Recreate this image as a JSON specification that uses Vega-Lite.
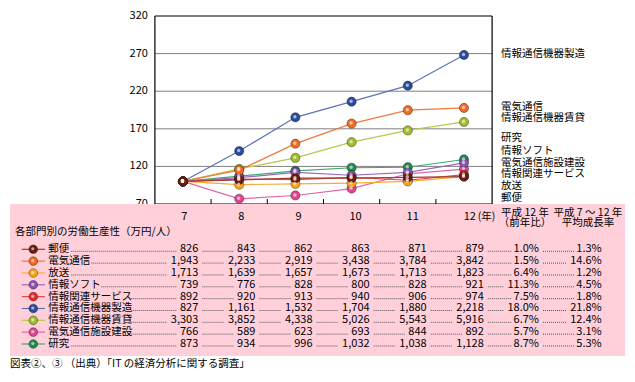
{
  "$schema": "https://vega.github.io/schema/vega-lite/v6.json",
  "padding": {"left": 10, "top": 10, "right": 10, "bottom": 4},
  "background": "white",
  "config": {"font": "Noto Sans CJK JP", "view": {"stroke": null}, "text": {"font": "Noto Sans CJK JP", "color": "black"}},
  "title": {"text": "図表②、③ （出典）「IT の経済分析に関する調査」", "orient": "bottom", "anchor": "start", "fontSize": 10.5, "fontWeight": "normal", "font": "Noto Sans CJK JP", "offset": 3, "color": "black"},
  "datasets": {
    "prod": [
      {"series": "研究", "year": 7, "value": 873, "index": 100},
      {"series": "研究", "year": 8, "value": 934, "index": 106.99},
      {"series": "研究", "year": 9, "value": 996, "index": 114.09},
      {"series": "研究", "year": 10, "value": 1032, "index": 118.21},
      {"series": "研究", "year": 11, "value": 1038, "index": 118.9},
      {"series": "研究", "year": 12, "value": 1128, "index": 129.21},
      {"series": "電気通信施設建設", "year": 7, "value": 766, "index": 100},
      {"series": "電気通信施設建設", "year": 8, "value": 589, "index": 76.89},
      {"series": "電気通信施設建設", "year": 9, "value": 623, "index": 81.33},
      {"series": "電気通信施設建設", "year": 10, "value": 693, "index": 90.47},
      {"series": "電気通信施設建設", "year": 11, "value": 844, "index": 110.18},
      {"series": "電気通信施設建設", "year": 12, "value": 892, "index": 116.45},
      {"series": "情報通信機器賃貸", "year": 7, "value": 3303, "index": 100},
      {"series": "情報通信機器賃貸", "year": 8, "value": 3852, "index": 116.62},
      {"series": "情報通信機器賃貸", "year": 9, "value": 4338, "index": 131.34},
      {"series": "情報通信機器賃貸", "year": 10, "value": 5026, "index": 152.17},
      {"series": "情報通信機器賃貸", "year": 11, "value": 5543, "index": 167.82},
      {"series": "情報通信機器賃貸", "year": 12, "value": 5916, "index": 179.11},
      {"series": "情報通信機器製造", "year": 7, "value": 827, "index": 100},
      {"series": "情報通信機器製造", "year": 8, "value": 1161, "index": 140.39},
      {"series": "情報通信機器製造", "year": 9, "value": 1532, "index": 185.25},
      {"series": "情報通信機器製造", "year": 10, "value": 1704, "index": 206.05},
      {"series": "情報通信機器製造", "year": 11, "value": 1880, "index": 227.33},
      {"series": "情報通信機器製造", "year": 12, "value": 2218, "index": 268.2},
      {"series": "情報関連サービス", "year": 7, "value": 892, "index": 100},
      {"series": "情報関連サービス", "year": 8, "value": 920, "index": 103.14},
      {"series": "情報関連サービス", "year": 9, "value": 913, "index": 102.35},
      {"series": "情報関連サービス", "year": 10, "value": 940, "index": 105.38},
      {"series": "情報関連サービス", "year": 11, "value": 906, "index": 101.57},
      {"series": "情報関連サービス", "year": 12, "value": 974, "index": 109.19},
      {"series": "情報ソフト", "year": 7, "value": 739, "index": 100},
      {"series": "情報ソフト", "year": 8, "value": 776, "index": 105.01},
      {"series": "情報ソフト", "year": 9, "value": 828, "index": 112.04},
      {"series": "情報ソフト", "year": 10, "value": 800, "index": 108.25},
      {"series": "情報ソフト", "year": 11, "value": 828, "index": 112.04},
      {"series": "情報ソフト", "year": 12, "value": 921, "index": 124.63},
      {"series": "放送", "year": 7, "value": 1713, "index": 100},
      {"series": "放送", "year": 8, "value": 1639, "index": 95.68},
      {"series": "放送", "year": 9, "value": 1657, "index": 96.73},
      {"series": "放送", "year": 10, "value": 1673, "index": 97.66},
      {"series": "放送", "year": 11, "value": 1713, "index": 100},
      {"series": "放送", "year": 12, "value": 1823, "index": 106.42},
      {"series": "電気通信", "year": 7, "value": 1943, "index": 100},
      {"series": "電気通信", "year": 8, "value": 2233, "index": 114.93},
      {"series": "電気通信", "year": 9, "value": 2919, "index": 150.23},
      {"series": "電気通信", "year": 10, "value": 3438, "index": 176.94},
      {"series": "電気通信", "year": 11, "value": 3784, "index": 194.75},
      {"series": "電気通信", "year": 12, "value": 3842, "index": 197.74},
      {"series": "郵便", "year": 7, "value": 826, "index": 100},
      {"series": "郵便", "year": 8, "value": 843, "index": 102.06},
      {"series": "郵便", "year": 9, "value": 862, "index": 104.36},
      {"series": "郵便", "year": 10, "value": 863, "index": 104.48},
      {"series": "郵便", "year": 11, "value": 871, "index": 105.45},
      {"series": "郵便", "year": 12, "value": 879, "index": 106.42}
    ],
    "rates": [
      {"series": "郵便", "yoy": 0.010, "cagr": 0.013},
      {"series": "電気通信", "yoy": 0.015, "cagr": 0.146},
      {"series": "放送", "yoy": 0.064, "cagr": 0.012},
      {"series": "情報ソフト", "yoy": 0.113, "cagr": 0.045},
      {"series": "情報関連サービス", "yoy": 0.075, "cagr": 0.018},
      {"series": "情報通信機器製造", "yoy": 0.180, "cagr": 0.218},
      {"series": "情報通信機器賃貸", "yoy": 0.067, "cagr": 0.124},
      {"series": "電気通信施設建設", "yoy": 0.057, "cagr": 0.031},
      {"series": "研究", "yoy": 0.087, "cagr": 0.053}
    ],
    "labels": [
      {"series": "情報通信機器製造", "at": 269.1},
      {"series": "電気通信", "at": 199.4},
      {"series": "情報通信機器賃貸", "at": 184.0},
      {"series": "研究", "at": 158.2},
      {"series": "情報ソフト", "at": 141.0},
      {"series": "電気通信施設建設", "at": 124.5},
      {"series": "情報関連サービス", "at": 109.9},
      {"series": "放送", "at": 94.3},
      {"series": "郵便", "at": 78.4}
    ]
  },
  "spacing": 0,
  "bounds": "flush",
  "resolve": {"scale": {"x": "independent", "y": "independent"}},
  "vconcat": [
    {
      "width": 615,
      "height": 188,
      "layer": [
        {"data": {"values": [{}]}, "mark": {"type": "rule", "color": "#808080"}, "encoding": {"x": {"datum": 6.5, "type": "quantitative", "axis": null}, "x2": {"datum": 12.5}, "y": {"datum": 120, "type": "quantitative", "axis": null}}},
        {"data": {"values": [{}]}, "mark": {"type": "rule", "color": "#808080"}, "encoding": {"x": {"datum": 6.5, "type": "quantitative", "axis": null}, "x2": {"datum": 12.5}, "y": {"datum": 170, "type": "quantitative", "axis": null}}},
        {"data": {"values": [{}]}, "mark": {"type": "rule", "color": "#808080"}, "encoding": {"x": {"datum": 6.5, "type": "quantitative", "axis": null}, "x2": {"datum": 12.5}, "y": {"datum": 220, "type": "quantitative", "axis": null}}},
        {"data": {"values": [{}]}, "mark": {"type": "rule", "color": "#808080"}, "encoding": {"x": {"datum": 6.5, "type": "quantitative", "axis": null}, "x2": {"datum": 12.5}, "y": {"datum": 270, "type": "quantitative", "axis": null}}},
        {"data": {"values": [{}]}, "mark": {"type": "rule", "color": "black", "strokeWidth": 1.2}, "encoding": {"x": {"datum": 6.5, "type": "quantitative", "axis": null}, "x2": {"datum": 12.5}, "y": {"datum": 320, "type": "quantitative", "axis": null}}},
        {"data": {"values": [{}]}, "mark": {"type": "rule", "color": "black", "strokeWidth": 1.2}, "encoding": {"x": {"datum": 6.5, "type": "quantitative", "axis": null}, "x2": {"datum": 12.5}, "y": {"datum": 70, "type": "quantitative", "axis": null}}},
        {"data": {"values": [{}]}, "mark": {"type": "rule", "color": "black", "strokeWidth": 1.2}, "encoding": {"x": {"datum": 6.5, "type": "quantitative", "axis": null}, "y": {"datum": 70, "type": "quantitative", "axis": null}, "y2": {"datum": 320}}},
        {"data": {"values": [{}]}, "mark": {"type": "rule", "color": "black", "strokeWidth": 1.2}, "encoding": {"x": {"datum": 12.5, "type": "quantitative", "axis": null}, "y": {"datum": 70, "type": "quantitative", "axis": null}, "y2": {"datum": 320}}},
        {"data": {"values": [{}]}, "mark": {"type": "rule", "color": "black"}, "encoding": {"x": {"datum": 7.5, "type": "quantitative", "axis": null}, "y": {"datum": 70, "type": "quantitative", "axis": null}, "y2": {"datum": 76.6}}},
        {"data": {"values": [{}]}, "mark": {"type": "rule", "color": "black"}, "encoding": {"x": {"datum": 8.5, "type": "quantitative", "axis": null}, "y": {"datum": 70, "type": "quantitative", "axis": null}, "y2": {"datum": 76.6}}},
        {"data": {"values": [{}]}, "mark": {"type": "rule", "color": "black"}, "encoding": {"x": {"datum": 9.5, "type": "quantitative", "axis": null}, "y": {"datum": 70, "type": "quantitative", "axis": null}, "y2": {"datum": 76.6}}},
        {"data": {"values": [{}]}, "mark": {"type": "rule", "color": "black"}, "encoding": {"x": {"datum": 10.5, "type": "quantitative", "axis": null}, "y": {"datum": 70, "type": "quantitative", "axis": null}, "y2": {"datum": 76.6}}},
        {"data": {"values": [{}]}, "mark": {"type": "rule", "color": "black"}, "encoding": {"x": {"datum": 11.5, "type": "quantitative", "axis": null}, "y": {"datum": 70, "type": "quantitative", "axis": null}, "y2": {"datum": 76.6}}},
        {"data": {"values": [{}]}, "mark": {"type": "text", "align": "right", "baseline": "middle", "fontSize": 11, "dx": -7, "text": "70"}, "encoding": {"x": {"datum": 6.5, "type": "quantitative", "axis": null}, "y": {"datum": 70, "type": "quantitative", "axis": null}}},
        {"data": {"values": [{}]}, "mark": {"type": "text", "align": "right", "baseline": "middle", "fontSize": 11, "dx": -7, "text": "120"}, "encoding": {"x": {"datum": 6.5, "type": "quantitative", "axis": null}, "y": {"datum": 120, "type": "quantitative", "axis": null}}},
        {"data": {"values": [{}]}, "mark": {"type": "text", "align": "right", "baseline": "middle", "fontSize": 11, "dx": -7, "text": "170"}, "encoding": {"x": {"datum": 6.5, "type": "quantitative", "axis": null}, "y": {"datum": 170, "type": "quantitative", "axis": null}}},
        {"data": {"values": [{}]}, "mark": {"type": "text", "align": "right", "baseline": "middle", "fontSize": 11, "dx": -7, "text": "220"}, "encoding": {"x": {"datum": 6.5, "type": "quantitative", "axis": null}, "y": {"datum": 220, "type": "quantitative", "axis": null}}},
        {"data": {"values": [{}]}, "mark": {"type": "text", "align": "right", "baseline": "middle", "fontSize": 11, "dx": -7, "text": "270"}, "encoding": {"x": {"datum": 6.5, "type": "quantitative", "axis": null}, "y": {"datum": 270, "type": "quantitative", "axis": null}}},
        {"data": {"values": [{}]}, "mark": {"type": "text", "align": "right", "baseline": "middle", "fontSize": 11, "dx": -7, "text": "320"}, "encoding": {"x": {"datum": 6.5, "type": "quantitative", "axis": null}, "y": {"datum": 320, "type": "quantitative", "axis": null}}},
        {
          "data": {"name": "prod"},
          "mark": {"type": "line", "strokeWidth": 1.2},
          "encoding": {
            "x": {"field": "year", "type": "quantitative", "axis": null, "scale": {"domain": [3.9217, 14.8648], "nice": false, "zero": false}},
            "y": {"field": "index", "type": "quantitative", "axis": null, "scale": {"domain": [70, 320], "nice": false, "zero": false}},
            "stroke": {"field": "series", "type": "nominal", "legend": null,
                       "scale": {"domain": ["郵便", "電気通信", "放送", "情報ソフト", "情報関連サービス", "情報通信機器製造", "情報通信機器賃貸", "電気通信施設建設", "研究"],
                                 "range": ["#a33a2e", "#f07a3c", "#f2ae3a", "#9a6ab8", "#e64646", "#5a72b8", "#b5c94a", "#e066a6", "#3aaa78"]}}
          }
        },
        {
          "data": {"name": "prod"},
          "mark": {"type": "circle", "size": 85, "opacity": 1, "stroke": "black", "strokeOpacity": 0.35, "strokeWidth": 1},
          "encoding": {
            "x": {"field": "year", "type": "quantitative", "axis": null},
            "y": {"field": "index", "type": "quantitative", "axis": null},
            "fill": {"field": "series", "type": "nominal", "legend": null,
                     "scale": {"domain": ["郵便", "電気通信", "放送", "情報ソフト", "情報関連サービス", "情報通信機器製造", "情報通信機器賃貸", "電気通信施設建設", "研究"],
                               "range": ["#6b1c12", "#f26a21", "#f7a51c", "#8a55a8", "#e32b2b", "#2b4c9b", "#a3bd2a", "#e0458f", "#1e8c50"]}}
          }
        },
        {
          "data": {"name": "prod"},
          "mark": {"type": "circle", "size": 12, "color": "white", "opacity": 0.6, "xOffset": -0.5, "yOffset": -0.5},
          "encoding": {
            "x": {"field": "year", "type": "quantitative", "axis": null},
            "y": {"field": "index", "type": "quantitative", "axis": null}
          }
        },
        {
          "data": {"name": "labels"},
          "mark": {"type": "text", "align": "left", "baseline": "middle", "fontSize": 10.5},
          "encoding": {
            "x": {"datum": 12.658, "type": "quantitative", "axis": null},
            "y": {"field": "at", "type": "quantitative", "axis": null},
            "text": {"field": "series"}
          }
        }
      ]
    },
    {
      "width": 615,
      "height": 152,
      "view": {"fill": "#ffd0da", "stroke": null},
      "layer": [
        {
          "data": {"name": "rates"},
          "mark": {"type": "rule", "strokeWidth": 1.2},
          "encoding": {
            "x": {"datum": 3.907, "type": "quantitative", "axis": null, "scale": {"domain": [3.702, 14.473], "nice": false, "zero": false}},
            "x2": {"datum": 4.315},
            "y": {"field": "series", "type": "nominal", "axis": null,
                  "scale": {"type": "point", "domain": ["_h1", "_h2", "_h3", "郵便", "電気通信", "放送", "情報ソフト", "情報関連サービス", "情報通信機器製造", "情報通信機器賃貸", "電気通信施設建設", "研究", "_f1"], "padding": 0.42, "align": 0.983}},
            "stroke": {"field": "series", "type": "nominal", "legend": null,
                       "scale": {"domain": ["郵便", "電気通信", "放送", "情報ソフト", "情報関連サービス", "情報通信機器製造", "情報通信機器賃貸", "電気通信施設建設", "研究"],
                                 "range": ["#a33a2e", "#f07a3c", "#f2ae3a", "#9a6ab8", "#e64646", "#5a72b8", "#b5c94a", "#e066a6", "#3aaa78"]}}
          }
        },
        {
          "data": {"name": "rates"},
          "mark": {"type": "circle", "size": 75, "opacity": 1, "stroke": "black", "strokeOpacity": 0.35, "strokeWidth": 1},
          "encoding": {
            "x": {"datum": 4.11, "type": "quantitative", "axis": null},
            "y": {"field": "series", "type": "nominal", "axis": null},
            "fill": {"field": "series", "type": "nominal", "legend": null,
                     "scale": {"domain": ["郵便", "電気通信", "放送", "情報ソフト", "情報関連サービス", "情報通信機器製造", "情報通信機器賃貸", "電気通信施設建設", "研究"],
                               "range": ["#6b1c12", "#f26a21", "#f7a51c", "#8a55a8", "#e32b2b", "#2b4c9b", "#a3bd2a", "#e0458f", "#1e8c50"]}}
          }
        },
        {
          "data": {"name": "rates"},
          "mark": {"type": "circle", "size": 10, "color": "white", "opacity": 0.6, "xOffset": -0.5, "yOffset": -0.5},
          "encoding": {
            "x": {"datum": 4.11, "type": "quantitative", "axis": null},
            "y": {"field": "series", "type": "nominal", "axis": null}
          }
        },
        {
          "data": {"name": "rates"},
          "mark": {"type": "text", "align": "left", "baseline": "middle", "fontSize": 10.5},
          "encoding": {
            "x": {"datum": 4.372, "type": "quantitative", "axis": null},
            "y": {"field": "series", "type": "nominal", "axis": null},
            "text": {"field": "series"}
          }
        },
        {
          "data": {"name": "prod"},
          "mark": {"type": "rule", "color": "#555555", "strokeWidth": 1, "strokeDash": [1, 1], "yOffset": 2,
                   "xOffset": {"expr": "datum.year == 7 ? -147 + 10 * length(datum.series) : -53"},
                   "x2Offset": {"expr": "datum.value >= 1000 ? -31 : -21"}},
          "encoding": {
            "x": {"field": "year", "type": "quantitative", "axis": null},
            "x2": {"field": "year"},
            "y": {"field": "series", "type": "nominal", "axis": null}
          }
        },
        {
          "data": {"name": "prod"},
          "mark": {"type": "text", "align": "right", "baseline": "middle", "fontSize": 11},
          "encoding": {
            "x": {"field": "year", "type": "quantitative", "axis": null},
            "y": {"field": "series", "type": "nominal", "axis": null},
            "text": {"field": "value", "type": "quantitative", "format": ","}
          }
        },
        {
          "data": {"name": "prod"},
          "transform": [{"filter": "datum.series == '郵便'"}],
          "mark": {"type": "text", "align": "center", "baseline": "middle", "fontSize": 11, "dx": -14, "dy": -32},
          "encoding": {
            "x": {"field": "year", "type": "quantitative", "axis": null},
            "y": {"datum": "郵便", "type": "nominal", "axis": null},
            "text": {"field": "year", "type": "quantitative"}
          }
        },
        {
          "data": {"values": [{}]},
          "mark": {"type": "text", "align": "left", "baseline": "middle", "fontSize": 10.5, "dx": -6, "dy": -32, "text": "(年)"},
          "encoding": {"x": {"datum": 12, "type": "quantitative", "axis": null}, "y": {"datum": "郵便", "type": "nominal", "axis": null}}
        },
        {
          "data": {"values": [{}]},
          "mark": {"type": "text", "align": "left", "baseline": "middle", "fontSize": 10.5, "dy": -17, "text": "各部門別の労働生産性（万円/人）"},
          "encoding": {"x": {"datum": 3.79, "type": "quantitative", "axis": null}, "y": {"datum": "郵便", "type": "nominal", "axis": null}}
        },
        {
          "data": {"name": "rates"},
          "mark": {"type": "rule", "color": "#555555", "strokeWidth": 1, "strokeDash": [1, 1], "yOffset": 2, "xOffset": 4,
                   "x2Offset": {"expr": "datum.yoy >= 0.1 ? -35 : -27"}},
          "encoding": {
            "x": {"datum": 12, "type": "quantitative", "axis": null},
            "x2": {"datum": 12.967},
            "y": {"field": "series", "type": "nominal", "axis": null}
          }
        },
        {
          "data": {"name": "rates"},
          "mark": {"type": "text", "align": "right", "baseline": "middle", "fontSize": 11},
          "encoding": {
            "x": {"datum": 12.967, "type": "quantitative", "axis": null},
            "y": {"field": "series", "type": "nominal", "axis": null},
            "text": {"field": "yoy", "type": "quantitative", "format": ".1%"}
          }
        },
        {
          "data": {"name": "rates"},
          "mark": {"type": "rule", "color": "#555555", "strokeWidth": 1, "strokeDash": [1, 1], "yOffset": 2, "xOffset": 4,
                   "x2Offset": {"expr": "datum.cagr >= 0.1 ? -35 : -27"}},
          "encoding": {
            "x": {"datum": 12.967, "type": "quantitative", "axis": null},
            "x2": {"datum": 14.065},
            "y": {"field": "series", "type": "nominal", "axis": null}
          }
        },
        {
          "data": {"name": "rates"},
          "mark": {"type": "text", "align": "right", "baseline": "middle", "fontSize": 11},
          "encoding": {
            "x": {"datum": 14.065, "type": "quantitative", "axis": null},
            "y": {"field": "series", "type": "nominal", "axis": null},
            "text": {"field": "cagr", "type": "quantitative", "format": ".1%"}
          }
        },
        {
          "data": {"values": [{}]},
          "mark": {"type": "text", "align": "center", "baseline": "middle", "fontSize": 10.5, "dy": -36.6, "text": "平成 12 年"},
          "encoding": {"x": {"datum": 12.722, "type": "quantitative", "axis": null}, "y": {"datum": "郵便", "type": "nominal", "axis": null}}
        },
        {
          "data": {"values": [{}]},
          "mark": {"type": "text", "align": "center", "baseline": "middle", "fontSize": 10.5, "dy": -26.6, "text": "（前年比）"},
          "encoding": {"x": {"datum": 12.722, "type": "quantitative", "axis": null}, "y": {"datum": "郵便", "type": "nominal", "axis": null}}
        },
        {
          "data": {"values": [{}]},
          "mark": {"type": "text", "align": "center", "baseline": "middle", "fontSize": 10.5, "dy": -36.6, "text": "平成 7 ～ 12 年"},
          "encoding": {"x": {"datum": 13.823, "type": "quantitative", "axis": null}, "y": {"datum": "郵便", "type": "nominal", "axis": null}}
        },
        {
          "data": {"values": [{}]},
          "mark": {"type": "text", "align": "center", "baseline": "middle", "fontSize": 10.5, "dy": -26.6, "text": "平均成長率"},
          "encoding": {"x": {"datum": 13.823, "type": "quantitative", "axis": null}, "y": {"datum": "郵便", "type": "nominal", "axis": null}}
        }
      ]
    }
  ]
}
